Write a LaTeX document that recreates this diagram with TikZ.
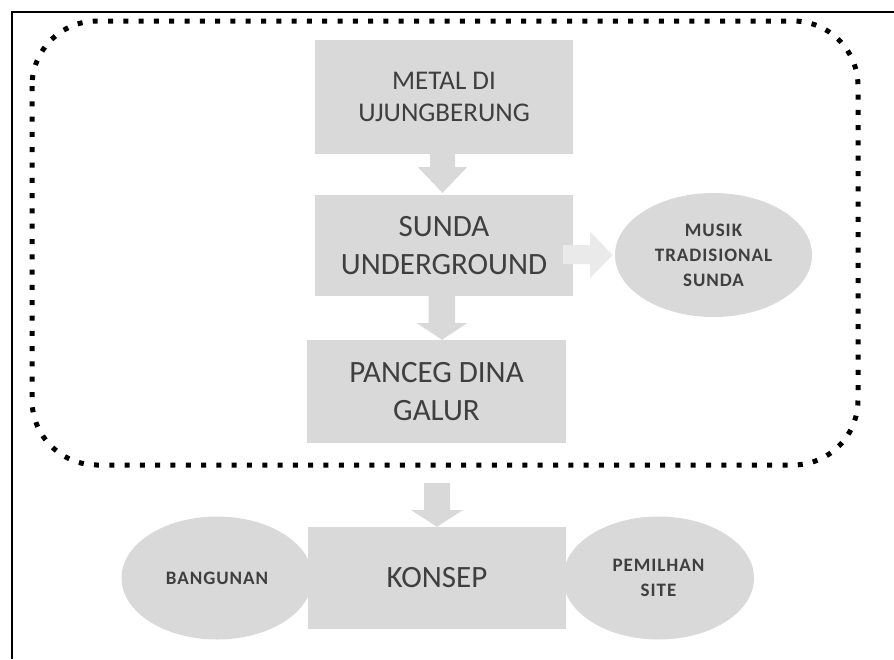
\documentclass[tikz,border=0pt]{standalone}
\usepackage{fontspec}
\setmainfont{Carlito}
\newfontfamily\smallfont[LetterSpace=5]{Carlito}
\usetikzlibrary{shapes.geometric,calc}
\definecolor{boxgray}{HTML}{D9D9D9}
\definecolor{lightarrow}{HTML}{EAEAEA}
\definecolor{txt}{HTML}{3F3F3F}
\begin{document}
\begin{tikzpicture}[x=1pt,y=-1pt,
  gbox/.style={rectangle, fill=boxgray, inner sep=0pt, align=center, text=txt},
  goval/.style={ellipse, fill=boxgray, inner sep=0pt, align=center, text=txt},
  bigtext/.style={font=\fontsize{31}{38}\selectfont},
  midtext/.style={font=\fontsize{27}{32}\selectfont},
  smalltext/.style={font=\smallfont\bfseries\fontsize{19}{25}\selectfont},
  arrowfill/.style={fill=boxgray},
  lightfill/.style={fill=lightarrow},
  dotline/.style={line width=5pt, dash pattern=on 5pt off 10.3pt, rounded corners=65pt},
  frameline/.style={line width=2pt}]

\useasboundingbox (0,0) rectangle (894,659);

% outer frame (only left and top edges visible)
\draw[frameline] (12,659) -- (12,12) -- (894,12);

% dotted rounded group
\draw[dotline] (32,21) rectangle (858,465);

% nodes
\node[gbox, midtext, minimum width=258pt, minimum height=114pt] (metal) at (444,97) {METAL DI\\UJUNGBERUNG};
\node[gbox, bigtext, minimum width=258pt, minimum height=101pt] (sunda) at (444,245.5) {SUNDA\\UNDERGROUND};
\node[gbox, bigtext, minimum width=259pt, minimum height=103pt] (panceg) at (436.5,391.5) {PANCEG DINA\\GALUR};
\node[goval, smalltext, minimum width=197pt, minimum height=124pt] (musik) at (713.5,255) {MUSIK\\TRADISIONAL\\SUNDA};
\node[goval, smalltext, minimum width=191pt, minimum height=123pt] (bangunan) at (217,578) {BANGUNAN};
\node[goval, smalltext, minimum width=191pt, minimum height=123pt] (pemilhan) at (658.5,578) {PEMILHAN\\SITE};
\node[gbox, bigtext, minimum width=258pt, minimum height=102pt] (konsep) at (437,578) {KONSEP};

% block arrows
\fill[arrowfill] ($(metal.south)+(-14,0)$) -- ($(metal.south)+(-14,13)$) -- ($(metal.south)+(-26,13)$)
  -- ($(sunda.north)+(-1.5,-2)$) -- ($(metal.south)+(23,13)$) -- ($(metal.south)+(11,13)$)
  -- ($(metal.south)+(11,0)$) -- cycle;
\fill[arrowfill] ($(sunda.south)+(-15.5,0)$) -- ($(sunda.south)+(-15.5,27)$) -- ($(sunda.south)+(-27,27)$)
  -- ($(panceg.north)+(5.5,0)$) -- ($(sunda.south)+(23,27)$) -- ($(sunda.south)+(11,27)$)
  -- ($(sunda.south)+(11,0)$) -- cycle;
\coordinate (arrtop) at (437,483);
\fill[arrowfill] ($(arrtop)+(-13,0)$) -- ($(arrtop)+(-13,27)$) -- ($(arrtop)+(-26,27)$)
  -- (konsep.north) -- ($(arrtop)+(26,27)$) -- ($(arrtop)+(13,27)$)
  -- ($(arrtop)+(13,0)$) -- cycle;
\coordinate (ra) at ($(sunda.east |- musik.west)+(-10,0)$);
\fill[lightfill] ($(ra)+(0,-10)$) -- ($(ra)+(27,-10)$) -- ($(ra)+(27,-23)$)
  -- ($(musik.west)+(-2,0)$) -- ($(ra)+(27,23)$) -- ($(ra)+(27,9)$)
  -- ($(ra)+(0,9)$) -- cycle;
\end{tikzpicture}
\end{document}
